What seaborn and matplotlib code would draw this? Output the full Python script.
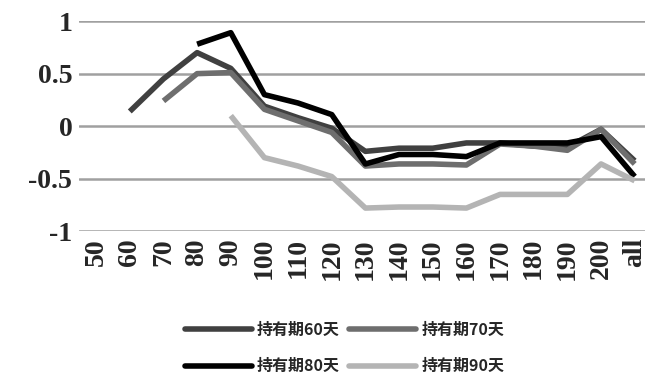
import numpy as np
import pandas as pd
import matplotlib
matplotlib.use("Agg")
import matplotlib.pyplot as plt
import seaborn as sns

categories = ['50', '60', '70', '80', '90', '100', '110', '120', '130', '140',
              '150', '160', '170', '180', '190', '200', 'all']
nan = np.nan
hold_60 = [nan, 0.14, 0.45, 0.70, 0.55, 0.19, 0.08, -0.02, -0.24, -0.21,
           -0.21, -0.16, -0.16, -0.19, -0.20, -0.03, -0.33]
hold_70 = [nan, nan, 0.24, 0.50, 0.51, 0.16, 0.05, -0.06, -0.38, -0.36,
           -0.36, -0.37, -0.17, -0.19, -0.23, -0.03, -0.36]
hold_80 = [nan, nan, nan, 0.78, 0.89, 0.30, 0.22, 0.11, -0.36, -0.27,
           -0.27, -0.29, -0.16, -0.16, -0.16, -0.10, -0.48]
hold_90 = [nan, nan, nan, nan, 0.10, -0.30, -0.38, -0.48, -0.78, -0.77,
           -0.77, -0.78, -0.65, -0.65, -0.65, -0.36, -0.52]
series_names = ['持有期60天', '持有期70天', '持有期80天', '持有期90天']
colors = ['#404040', '#6e6e6e', '#000000', '#b4b4b4']

frames = []
for name, vals in zip(series_names, [hold_60, hold_70, hold_80, hold_90]):
    frames.append(pd.DataFrame({'pos': range(len(categories)), 'value': vals, 'series': name}))
df = pd.concat(frames).dropna()

sns.set_style("white")
plt.rcParams['font.family'] = ['Liberation Serif', 'Noto Sans CJK SC']

fig = plt.figure(figsize=(6.5, 3.84), dpi=100)
ax = fig.add_axes([0.122, 0.398, 0.87, 0.547])

for y in [-1, -0.5, 0, 0.5, 1]:
    ax.axhline(y, color='#a0a0a0', lw=1.8, zorder=0)

sns.lineplot(data=df, x='pos', y='value', hue='series', hue_order=series_names,
             palette=colors, lw=4, ax=ax, legend=False, solid_capstyle='butt')

ax.set_xlim(-0.5, 16.3)
ax.set_ylim(-1.0, 1.0)
ax.set_xticks(range(len(categories)))
ax.set_xticklabels(categories, rotation=90, fontsize=20, fontweight='bold',
                   family='Liberation Serif')
ax.set_yticks([-1, -0.5, 0, 0.5, 1])
ax.set_yticklabels(['-1', '-0.5', '0', '0.5', '1'], fontsize=20, fontweight='bold',
                   family='Liberation Serif')
ax.tick_params(axis='both', length=0, pad=5)
ax.set_xlabel('')
ax.set_ylabel('')
for s in ax.spines.values():
    s.set_visible(False)

handles = [plt.Line2D([], [], color=c, lw=4) for c in colors]
order = [0, 2, 1, 3]
fig.legend([handles[i] for i in order], [series_names[i] for i in order],
           ncol=2, frameon=False, loc='center', bbox_to_anchor=(0.53, 0.094),
           handlelength=4.2, labelspacing=1.3, columnspacing=0.6, handletextpad=0.3,
           prop={'family': ['Noto Sans CJK SC'], 'size': 11.5, 'weight': 'bold'})

fig.savefig('out.png', dpi=100)
